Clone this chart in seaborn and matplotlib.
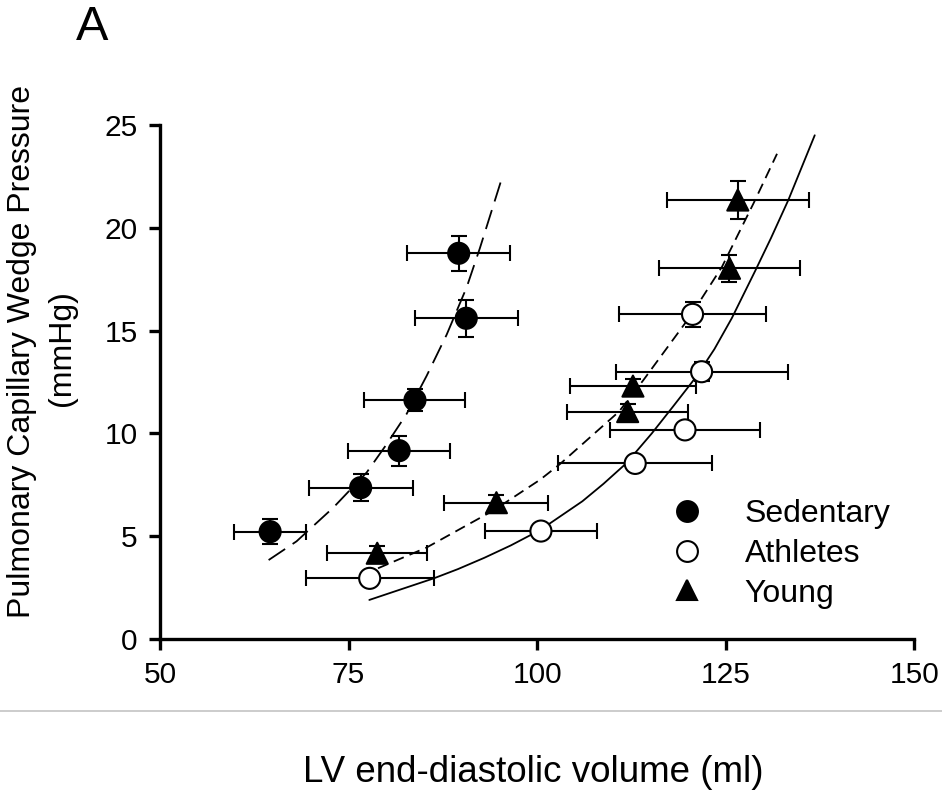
import pandas as pd
import matplotlib
matplotlib.use("Agg")
import matplotlib.pyplot as plt
from matplotlib.lines import Line2D
import seaborn as sns

# Group means (LV end-diastolic volume, PCWP) with SE bars
sed_x = [64.6, 76.6, 81.7, 83.8, 90.6, 89.6]
sed_y = [5.22, 7.36, 9.16, 11.62, 15.6, 18.76]
sed_xerr = [4.8, 6.9, 6.8, 6.7, 6.8, 6.8]
sed_yerr = [0.6, 0.65, 0.73, 0.53, 0.91, 0.84]

ath_x = [77.8, 100.5, 113.0, 119.6, 121.8, 120.6]
ath_y = [2.95, 5.25, 8.54, 10.17, 13.0, 15.79]
ath_xerr = [8.5, 7.4, 10.2, 10.0, 11.4, 9.7]
ath_yerr = [0.2, 0.3, 0.3, 0.3, 0.45, 0.6]

young_x = [78.8, 94.6, 112.0, 112.7, 125.5, 126.6]
young_y = [4.17, 6.63, 11.06, 12.3, 18.03, 21.35]
young_xerr = [6.6, 6.9, 8.0, 8.3, 9.3, 9.4]
young_yerr = [0.35, 0.35, 0.35, 0.35, 0.67, 0.92]

# Fitted pressure-volume curves
sed_fit_x = [64.4, 68.1, 73.0, 77.4, 80.0, 82.7, 85.35, 88.0, 90.65, 92.4, 95.4]
sed_fit_y = [3.84, 4.75, 6.4, 8.1, 9.45, 10.95, 12.8, 14.8, 17.1, 19.0, 22.5]
ath_fit_x = [77.75, 81.0, 86.3, 89.5, 93.0, 96.5, 100.4, 103.0, 106.0, 108.8, 111.8,
             115.2, 118.0, 121.1, 123.5, 125.8, 128.9, 131.0, 133.3, 136.8]
ath_fit_y = [1.9, 2.3, 2.95, 3.4, 3.95, 4.55, 5.3, 5.95, 6.7, 7.55, 8.54,
             10.0, 11.3, 12.76, 14.1, 15.6, 17.9, 19.5, 21.35, 24.5]
young_fit_x = [78.9, 85.35, 94.2, 100.4, 103.0, 110.85, 114.1, 120.3, 124.5, 128.7, 131.8]
young_fit_y = [3.44, 4.45, 6.25, 7.75, 8.5, 11.06, 12.6, 15.7, 18.1, 21.2, 23.6]

groups = ["Sedentary", "Athletes", "Young"]
x_ticks = [50, 75, 100, 125, 150]
y_ticks = [0, 5, 10, 15, 20, 25]

df = pd.concat([
    pd.DataFrame({"group": "Sedentary", "x": sed_x, "y": sed_y, "xerr": sed_xerr, "yerr": sed_yerr}),
    pd.DataFrame({"group": "Athletes", "x": ath_x, "y": ath_y, "xerr": ath_xerr, "yerr": ath_yerr}),
    pd.DataFrame({"group": "Young", "x": young_x, "y": young_y, "xerr": young_xerr, "yerr": young_yerr}),
], ignore_index=True)

sns.set_style("ticks")
plt.rcParams["font.family"] = ["Liberation Sans", "DejaVu Sans"]
plt.rcParams["text.color"] = "black"

fig = plt.figure(figsize=(9.42, 7.93), dpi=100)
ax = fig.add_axes([160 / 942, 1 - 639 / 793, (914.3 - 160) / 942, (639 - 125) / 793])

# fit lines
sns.lineplot(x=sed_fit_x, y=sed_fit_y, ax=ax, color="black", lw=1.3,
             linestyle=(0, (11, 5)), sort=False, estimator=None)
sns.lineplot(x=ath_fit_x, y=ath_fit_y, ax=ax, color="black", lw=1.3,
             sort=False, estimator=None)
sns.lineplot(x=young_fit_x, y=young_fit_y, ax=ax, color="black", lw=1.3,
             linestyle=(0, (6, 3.5)), sort=False, estimator=None)

# error bars
ax.errorbar(df["x"], df["y"], xerr=df["xerr"], yerr=df["yerr"], fmt="none",
            ecolor="black", elinewidth=1.5, capsize=6, capthick=1.5, zorder=3)

markers = {"Sedentary": "o", "Athletes": "o", "Young": "^"}
palette = {"Sedentary": "black", "Athletes": "white", "Young": "black"}
sns.scatterplot(data=df, x="x", y="y", hue="group", style="group",
                markers=markers, palette=palette, hue_order=groups,
                s=230, edgecolor="black", linewidth=1.5, legend=False,
                ax=ax, zorder=4)

ax.set_xlim(50, 150)
ax.set_ylim(0, 25)
ax.set_xticks(x_ticks)
ax.set_yticks(y_ticks)
ax.set_xlabel("")
ax.set_ylabel("")
sns.despine(ax=ax)
for s in ["left", "bottom"]:
    ax.spines[s].set_linewidth(2.4)
    ax.spines[s].set_color("black")
ax.tick_params(width=2.4, length=8, labelsize=21.5, pad=8, color="black",
               labelcolor="black")

handles = [
    Line2D([], [], ls="none", marker="o", markersize=15, markerfacecolor="black",
           markeredgecolor="black", markeredgewidth=1.5),
    Line2D([], [], ls="none", marker="o", markersize=15, markerfacecolor="white",
           markeredgecolor="black", markeredgewidth=1.5),
    Line2D([], [], ls="none", marker="^", markersize=15, markerfacecolor="black",
           markeredgecolor="black", markeredgewidth=1.5),
]
fig.legend(handles, groups, loc="center left", bbox_to_anchor=(671 / 942, 1 - 554 / 793),
           frameon=False, fontsize=23, handlelength=1.0, handletextpad=1.3,
           labelspacing=0.3, borderpad=0, borderaxespad=0)

fig.text(92 / 942, 1 - 28 / 793, "A", fontsize=35, ha="center", va="center")
fig.text(22 / 942, 1 - 351 / 793, "Pulmonary Capillary Wedge Pressure", fontsize=23,
         rotation=90, ha="center", va="center")
fig.text(62 / 942, 1 - 348 / 793, "(mmHg)", fontsize=23, rotation=90,
         ha="center", va="center")
fig.add_artist(Line2D([0, 1], [1 - 711 / 793, 1 - 711 / 793], transform=fig.transFigure,
                      color="#c4c4c4", lw=1.2))
fig.text(533 / 942, 1 - 773 / 793, "LV end-diastolic volume (ml)", fontsize=26.5,
         ha="center", va="center")

fig.savefig("out.png", dpi=100)
